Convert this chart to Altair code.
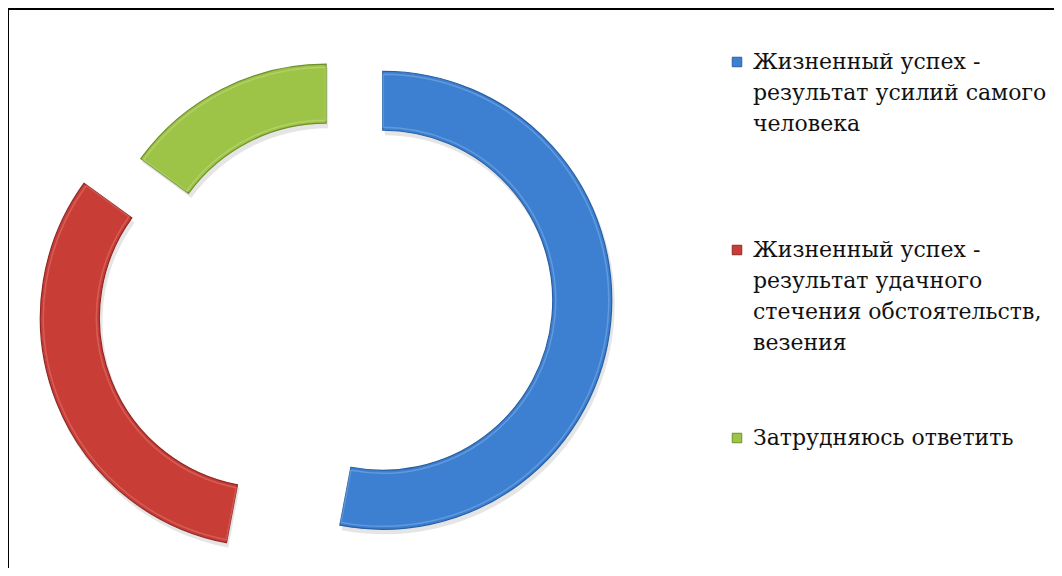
import math
import altair as alt
import pandas as pd

# ---- data ----
categories = [
    "Жизненный успех - результат усилий самого человека",
    "Жизненный успех - результат удачного стечения обстоятельств, везения",
    "Затрудняюсь ответить",
]
legend_lines = [
    ["Жизненный успех -", "результат усилий самого", "человека"],
    ["Жизненный успех -", "результат удачного", "стечения обстоятельств,", "везения"],
    ["Затрудняюсь ответить"],
]
values = [53, 32, 15]
colors = ["#3D80D1", "#C93D37", "#9DC447"]
edge_colors = ["#2A5FA3", "#8F2926", "#6E8F2C"]
light_colors = ["#8FB8EA", "#E9827D", "#CBE38F"]

# ---- style / layout constants ----
W, H = 1046, 560
CX, CY = 319, 287          # pie centre in view coordinates
R_OUT, R_IN = 229, 170
explode = [56, 62, 2]      # explosion distance of each slice (px)
FONT = "DejaVu Serif"
FONT_SIZE = 22
LINE_H = 31
LEG_X = 745
LEG_TOP = 61
LEG_STEP = 188

total = sum(values)
df = pd.DataFrame({"category": categories, "value": values, "order": range(len(values))})

theta_scale = alt.Scale(domain=[0, total], range=[0, 2 * math.pi])

base = (
    alt.Chart(df)
    .transform_window(cum="sum(value)", sort=[alt.SortField("order")])
    .transform_calculate(start="datum.cum - datum.value")
)

layers = []
cum = 0
for i, (cat, v) in enumerate(zip(categories, values)):
    mid = (cum + v / 2) / total * 2 * math.pi
    cum += v
    dx = explode[i] * math.sin(mid)
    dy = -explode[i] * math.cos(mid)
    sel = base.transform_filter(alt.datum.category == cat)
    enc = dict(
        theta=alt.Theta("start:Q", scale=theta_scale),
        theta2="cum:Q",
        x=alt.value(CX + dx),
        y=alt.value(CY + dy),
    )
    shadow = sel.mark_arc(
        radius=R_OUT + 1, radius2=R_IN - 1, fill="#000000", opacity=0.10
    ).encode(
        theta=alt.Theta("start:Q", scale=theta_scale),
        theta2="cum:Q",
        x=alt.value(CX + dx + 2),
        y=alt.value(CY + dy + 4),
    )
    arc = sel.mark_arc(
        radius=R_OUT, radius2=R_IN, fill=colors[i], stroke=edge_colors[i], strokeWidth=1.2
    ).encode(**enc)
    bevel = sel.mark_arc(
        radius=R_OUT - 3, radius2=R_IN + 3, padAngle=0.004, fillOpacity=0,
        stroke=light_colors[i], strokeWidth=1.5, strokeOpacity=0.45
    ).encode(**enc)
    layers += [shadow, arc, bevel]

leg_df = pd.DataFrame({
    "category": categories,
    "label": ["\n".join(l) for l in legend_lines],
    "ypos": [LEG_TOP + i * LEG_STEP for i in range(len(categories))],
})
leg_df["sq_y"] = leg_df["ypos"] - 7

color_scale = alt.Scale(domain=categories, range=colors)
stroke_scale = alt.Scale(domain=categories, range=edge_colors)

squares = alt.Chart(leg_df).mark_square(size=90, strokeWidth=1, opacity=1).encode(
    x=alt.value(729),
    y=alt.Y("sq_y:Q", scale=None),
    fill=alt.Fill("category:N", scale=color_scale, legend=None),
    stroke=alt.Stroke("category:N", scale=stroke_scale, legend=None),
)
texts = alt.Chart(leg_df).mark_text(
    align="left", baseline="alphabetic", font=FONT, fontSize=FONT_SIZE,
    lineBreak="\n", lineHeight=LINE_H, color="#111111",
).encode(
    x=alt.value(LEG_X),
    y=alt.Y("ypos:Q", scale=None),
    text="label:N",
)

frame_df = pd.DataFrame({"k": [0]})
top_rule = alt.Chart(frame_df).mark_rule(color="#000000", strokeWidth=2).encode(
    x=alt.value(0), x2=alt.value(W), y=alt.value(1)
)
left_rule = alt.Chart(frame_df).mark_rule(color="#000000", strokeWidth=2).encode(
    x=alt.value(0), y=alt.value(0), y2=alt.value(H)
)

chart = alt.layer(*layers, squares, texts, top_rule, left_rule).properties(
    width=W, height=H, autosize=alt.AutoSizeParams(type="none"), padding=0
).configure_view(stroke=None).configure(background="white")

chart.save("out.html", embed_options={"renderer": "svg", "actions": False})
